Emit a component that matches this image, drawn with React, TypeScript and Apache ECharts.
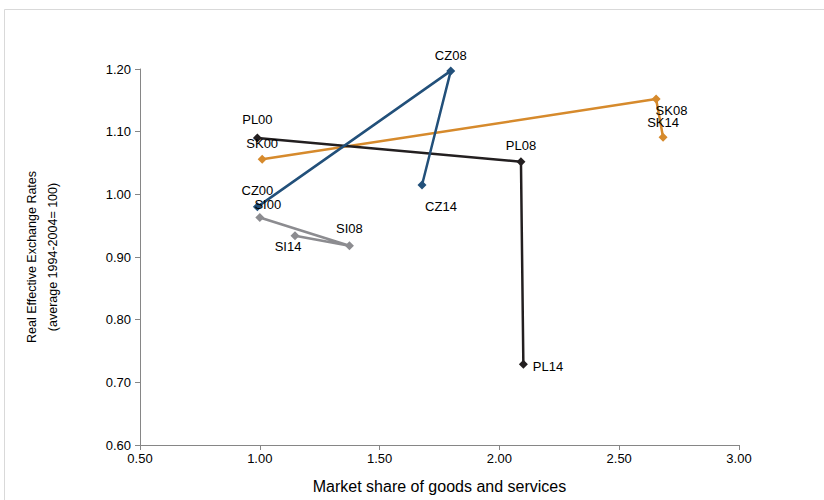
import React, { useEffect, useRef } from "react";
import * as echarts from "echarts";

const plNames = ["PL00", "PL08", "PL14"];
const plX = [0.99, 2.09, 2.1];
const plY = [1.09, 1.052, 0.729];

const czNames = ["CZ00", "CZ08", "CZ14"];
const czX = [0.99, 1.797, 1.677];
const czY = [0.98, 1.197, 1.015];

const skNames = ["SK00", "SK08", "SK14"];
const skX = [1.01, 2.654, 2.683];
const skY = [1.056, 1.152, 1.091];

const siNames = ["SI00", "SI08", "SI14"];
const siX = [1.0, 1.374, 1.147];
const siY = [0.963, 0.918, 0.934];

const xTitle = "Market share of goods and services";
const yTitle = "Real Effective Exchange Rates\n(average 1994-2004= 100)";

const FONT = "'Liberation Sans', Arial, sans-serif";

type LabelSpec = { position: string; offset: [number, number] };

const plLabels: LabelSpec[] = [
  { position: "top", offset: [0, -2] },
  { position: "top", offset: [0, 0] },
  { position: "right", offset: [0, 2] },
];
const czLabels: LabelSpec[] = [
  { position: "top", offset: [0, 0] },
  { position: "top", offset: [0, 1] },
  { position: "bottom", offset: [19, 6] },
];
const skLabels: LabelSpec[] = [
  { position: "top", offset: [0, 0] },
  { position: "right", offset: [-10, 11] },
  { position: "top", offset: [0, 1] },
];
const siLabels: LabelSpec[] = [
  { position: "top", offset: [8, 3] },
  { position: "top", offset: [0, -1] },
  { position: "bottom", offset: [-7, -5] },
];

function buildSeries(
  name: string,
  names: string[],
  xs: number[],
  ys: number[],
  labels: LabelSpec[],
  color: string
) {
  return {
    name,
    type: "line",
    symbol: "diamond",
    symbolSize: 9,
    lineStyle: { color, width: 2.5 },
    itemStyle: { color },
    data: names.map((n, i) => ({
      value: [xs[i], ys[i]],
      name: n,
      label: {
        show: true,
        formatter: n,
        position: labels[i].position,
        offset: labels[i].offset,
        color: "#000",
        fontSize: 13,
        fontFamily: FONT,
      },
    })),
  };
}

export default function App() {
  const ref = useRef<HTMLDivElement>(null);
  useEffect(() => {
    document.body.style.margin = "0";
    const chart = echarts.init(ref.current!, undefined, { renderer: "svg" });
    chart.setOption({
      animation: false,
      backgroundColor: "#fff",
      grid: { left: 140, right: 85, top: 69, bottom: 55 },
      graphic: [
        {
          type: "rect",
          shape: { x: 4.5, y: 9.5, width: 840, height: 520 },
          style: { fill: "none", stroke: "#d9d9d9", lineWidth: 1 },
          silent: true,
        },
      ],
      xAxis: {
        type: "value",
        min: 0.5,
        max: 3,
        interval: 0.5,
        name: xTitle,
        nameLocation: "middle",
        nameGap: 33,
        nameTextStyle: { fontSize: 16, color: "#000", fontFamily: FONT },
        axisLine: { lineStyle: { color: "#868686" } },
        axisTick: { show: true, length: 5, lineStyle: { color: "#868686" } },
        axisLabel: {
          formatter: (v: number) => v.toFixed(2),
          fontSize: 13,
          color: "#000",
          fontFamily: FONT,
          margin: 7,
        },
        splitLine: { show: false },
      },
      yAxis: {
        type: "value",
        min: 0.6,
        max: 1.2,
        interval: 0.1,
        name: yTitle,
        nameLocation: "middle",
        nameGap: 77,
        nameTextStyle: {
          fontSize: 12.5,
          color: "#000",
          fontFamily: FONT,
          lineHeight: 21,
          align: "center",
        },
        axisLine: { show: true, lineStyle: { color: "#868686" } },
        axisTick: { show: true, length: 5, lineStyle: { color: "#868686" } },
        axisLabel: {
          formatter: (v: number) => v.toFixed(2),
          fontSize: 13,
          color: "#000",
          fontFamily: FONT,
          margin: 9,
        },
        splitLine: { show: false },
      },
      series: [
        buildSeries("SK", skNames, skX, skY, skLabels, "#d68a2c"),
        buildSeries("PL", plNames, plX, plY, plLabels, "#231f20"),
        buildSeries("CZ", czNames, czX, czY, czLabels, "#22507a"),
        buildSeries("SI", siNames, siX, siY, siLabels, "#8c8c90"),
      ],
    });
    return () => chart.dispose();
  }, []);
  return <div ref={ref} style={{ width: 824, height: 500 }} />;
}
